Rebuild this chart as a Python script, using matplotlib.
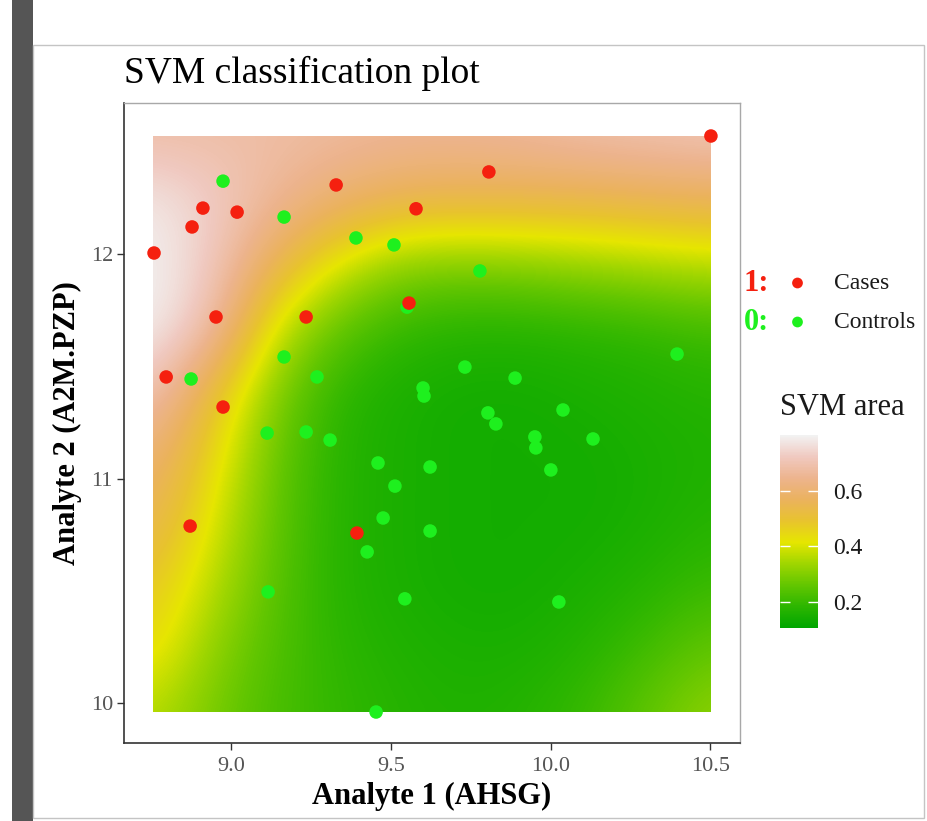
import numpy as np
import matplotlib
matplotlib.use("Agg")
import matplotlib.pyplot as plt
from matplotlib.colors import LinearSegmentedColormap, Normalize
from matplotlib.patches import Rectangle

plt.rcParams["font.family"] = ["Liberation Serif", "DejaVu Serif"]

# ---- data ----
# Cases (label 1)
case_x = [8.759, 8.878, 8.912, 9.019, 9.329, 9.579, 9.807, 10.502, 8.953, 9.235,
          9.557, 8.797, 8.975, 8.872, 9.394]
case_y = [12.005, 12.121, 12.205, 12.187, 12.308, 12.202, 12.366, 12.526, 11.720, 11.720,
          11.782, 11.453, 11.319, 10.789, 10.758]

# Controls (label 0)
ctrl_x = [8.975, 9.166, 9.391, 9.510, 9.779, 9.551, 9.166, 8.875, 9.269, 9.732,
          9.601, 9.604, 9.889, 10.396, 9.804, 9.829, 10.039, 9.113, 9.235, 9.310,
          9.951, 9.954, 10.133, 9.460, 9.623, 10.001, 9.513, 9.476, 9.623, 9.426,
          9.116, 9.544, 10.026, 9.454]
ctrl_y = [12.325, 12.165, 12.072, 12.041, 11.925, 11.764, 11.542, 11.444, 11.453, 11.497,
          11.404, 11.368, 11.448, 11.555, 11.293, 11.244, 11.306, 11.203, 11.208, 11.172,
          11.186, 11.137, 11.177, 11.070, 11.052, 11.039, 10.967, 10.825, 10.767, 10.674,
          10.496, 10.465, 10.451, 9.961]

# SVM area grid (coarse reading of the shaded surface), rows top -> bottom
grid_x = [8.756, 8.950, 9.144, 9.338, 9.532, 9.726, 9.920, 10.114, 10.308, 10.502]
grid_y = [12.526, 12.241, 11.956, 11.671, 11.386, 11.100, 10.815, 10.530, 10.245, 9.960]
svm_area = [
    [0.68, 0.68, 0.68, 0.67, 0.66, 0.66, 0.67, 0.69, 0.70, 0.71],
    [0.78, 0.73, 0.66, 0.60, 0.56, 0.55, 0.55, 0.55, 0.56, 0.57],
    [0.80, 0.72, 0.55, 0.40, 0.31, 0.30, 0.31, 0.33, 0.35, 0.37],
    [0.80, 0.69, 0.38, 0.25, 0.19, 0.17, 0.17, 0.18, 0.19, 0.21],
    [0.71, 0.50, 0.29, 0.18, 0.15, 0.14, 0.14, 0.15, 0.16, 0.17],
    [0.61, 0.44, 0.26, 0.17, 0.15, 0.14, 0.14, 0.14, 0.15, 0.16],
    [0.56, 0.40, 0.25, 0.17, 0.15, 0.14, 0.14, 0.14, 0.15, 0.17],
    [0.49, 0.36, 0.24, 0.17, 0.15, 0.14, 0.14, 0.15, 0.17, 0.20],
    [0.45, 0.31, 0.23, 0.18, 0.16, 0.15, 0.15, 0.17, 0.21, 0.26],
    [0.36, 0.28, 0.22, 0.19, 0.17, 0.16, 0.17, 0.20, 0.26, 0.32],
]
area_min, area_max = 0.105, 0.80

x_ticks = [9.0, 9.5, 10.0, 10.5]
x_labels = ["9.0", "9.5", "10.0", "10.5"]
y_ticks = [10, 11, 12]
bar_ticks = [0.2, 0.4, 0.6]

# R terrain.colors(10)
terrain = ["#00A600", "#2DB600", "#63C600", "#A0D600", "#E6E600",
           "#E8C32E", "#EBB25E", "#EDB48E", "#F0C9C0", "#F2F2F2"]
cmap = LinearSegmentedColormap.from_list("terrain_r", terrain)
norm = Normalize(area_min, area_max)

RED = "#F5200F"
GREEN = "#1EF01E"

W, H = 928, 821
fig = plt.figure(figsize=(W / 100, H / 100), dpi=100)

# dark strip at the left and the light frame
fig.patches.append(Rectangle((12 / W, 0), 21 / W, 1, transform=fig.transFigure,
                             facecolor="#555555", edgecolor="none"))
fig.patches.append(Rectangle((33 / W, 1 - 818 / H), (924 - 33) / W, (818 - 45) / H,
                             transform=fig.transFigure, facecolor="none",
                             edgecolor="#C4C4C4", lw=1))

ax = fig.add_axes([124 / W, 1 - 743 / H, (740 - 124) / W, (743 - 103) / H])

dx = grid_x[1] - grid_x[0]
dy = grid_y[0] - grid_y[1]
img = ax.imshow(np.array(svm_area), cmap=cmap, norm=norm, origin="upper",
                extent=(grid_x[0] - dx / 2, grid_x[-1] + dx / 2,
                        grid_y[-1] - dy / 2, grid_y[0] + dy / 2),
                interpolation="bicubic", interpolation_stage="data", aspect="auto", zorder=1)
clip = Rectangle((grid_x[0], grid_y[-1]), grid_x[-1] - grid_x[0], grid_y[0] - grid_y[-1],
                 transform=ax.transData, facecolor="none", edgecolor="none")
ax.add_patch(clip)
img.set_clip_path(clip)

ax.scatter(ctrl_x, ctrl_y, s=95, color=GREEN, edgecolors="none", zorder=3)
ax.scatter(case_x, case_y, s=95, color=RED, edgecolors="none", zorder=4)

ax.set_xlim(8.665, 10.593)
ax.set_ylim(9.823, 12.673)
ax.set_xticks(x_ticks)
ax.set_xticklabels(x_labels)
ax.set_yticks(y_ticks)
ax.tick_params(axis="both", labelsize=16, labelcolor="#555555", color="#333333",
               length=5, width=1, pad=3)
ax.tick_params(axis="x", pad=5)

for side in ("top", "right"):
    ax.spines[side].set_color("#A8A8A8")
    ax.spines[side].set_linewidth(1)
for side in ("left", "bottom"):
    ax.spines[side].set_color("#333333")
    ax.spines[side].set_linewidth(1.2)

ax.set_xlabel("Analyte 1 (AHSG)", fontsize=22, fontweight="bold", labelpad=4)
ax.set_ylabel("Analyte 2 (A2M.PZP)", fontsize=22, fontweight="bold", labelpad=6)

fig.text(124 / W, 1 - 73 / H, "SVM classification plot", fontsize=27,
         ha="left", va="center")

# class legend
fig.text(744 / W, 1 - 283 / H, "1:", fontsize=22, fontweight="bold", color=RED,
         ha="left", va="center")
fig.text(744 / W, 1 - 322 / H, "0:", fontsize=22, fontweight="bold", color=GREEN,
         ha="left", va="center")
leg = fig.add_axes([785 / W, 1 - 340 / H, 25 / W, 75 / H])
leg.set_xlim(0, 1)
leg.set_ylim(340, 265)
leg.scatter([0.5], [283], s=60, color=RED, edgecolors="none")
leg.scatter([0.5], [322], s=60, color=GREEN, edgecolors="none")
leg.axis("off")
fig.text(834 / W, 1 - 283 / H, "Cases", fontsize=17, color="#1A1A1A", ha="left", va="center")
fig.text(834 / W, 1 - 322 / H, "Controls", fontsize=17, color="#1A1A1A", ha="left", va="center")

# colour bar
fig.text(780 / W, 1 - 407 / H, "SVM area", fontsize=22, color="#1A1A1A", ha="left", va="center")
cax = fig.add_axes([780 / W, 1 - 628 / H, 38 / W, 193 / H])
cb = fig.colorbar(img, cax=cax, ticks=bar_ticks)
cb.outline.set_visible(False)
cb.ax.set_yticklabels([f"{t:.1f}" for t in bar_ticks])
cb.ax.tick_params(axis="y", which="both", direction="in", color="white", length=7, width=1,
                  labelsize=17, labelcolor="#1A1A1A", pad=11, left=True, right=True,
                  labelleft=False, labelright=True)

fig.savefig("out.png", dpi=100, facecolor="white")
